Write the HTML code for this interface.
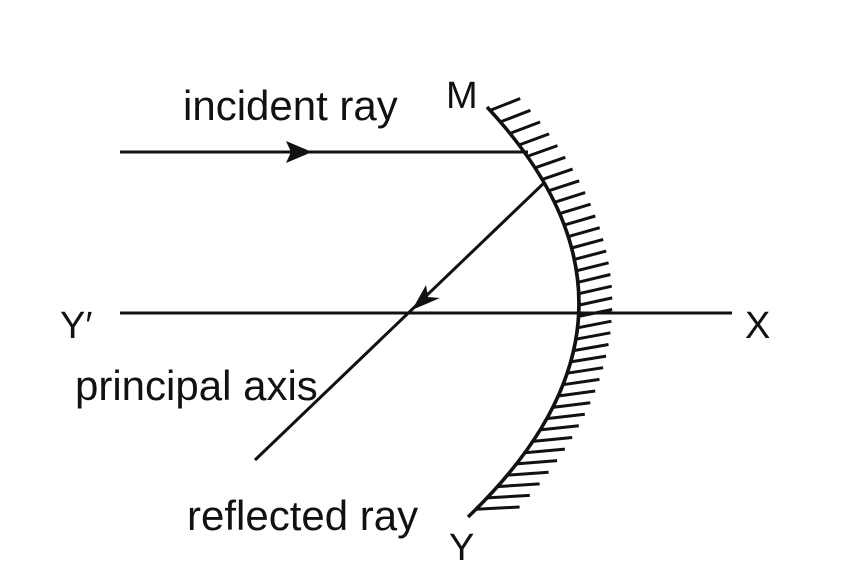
<!DOCTYPE html>
<html><head><style>body{margin:0;background:#fff}svg{display:block}</style></head><body>
<svg width="855" height="575" viewBox="0 0 855 575" xmlns="http://www.w3.org/2000/svg" font-family="Liberation Sans, sans-serif" font-size="42" fill="#111">
<rect width="855" height="575" fill="#fff"/>
<g stroke="#111" stroke-width="3" fill="none">
<line x1="120" y1="152" x2="528" y2="152"/>
<line x1="120" y1="313" x2="732" y2="313"/>
<line x1="545" y1="182" x2="255" y2="460"/>
<path d="M487 107 Q680 314 468 517" stroke-width="3.5"/>
<path d="M490.2 110.4L520.2 98.5M500.4 121.9L530.4 110.3M510 133.4L540.1 122M519 145L549.1 133.9M527.3 156.4L557.5 145.6M535 167.8L565.3 157.3M542.2 179.4L572.6 169.1M548.6 190.8L579.2 180.8M554.5 202.3L585.2 192.6M559.7 213.6L590.6 204.2M564.2 225.1L595.3 216M568.3 236.6L599.7 227.7M571.6 248L603.2 239.4M574.3 259.4L606.2 251.1M576.4 270.8L608.6 262.8M577.9 282.3L610.4 274.5M578.8 293.7L611.7 286.2M579 305.1L612.2 297.9M578.6 316.4L612.2 309.5M577.5 327.8L611.5 321.2M575.9 339.2L610.4 332.8M573.6 350.6L608.5 344.5M570.7 361.9L606.1 356.1M567.2 373.2L603.1 367.7M563.1 384.7L599.5 379.4M558.3 396L595.2 391M552.8 407.4L590.3 402.7M546.8 418.6L584.8 414.2M540.1 429.9L578.8 425.8M532.9 441.4L572.2 437.5M525 452.7L564.9 449.1M516.5 463.9L557.1 460.6M507.3 475.2L548.6 472.2M497.6 486.6L539.6 483.9M487.1 497.9L529.8 495.4M476.1 509.2L519.6 507"/>
</g>
<polygon points="312,152 286,141 291,152 286,163" fill="#111"/>
<polygon points="412,310 426,285 428,297 440,298" fill="#111"/>
<text x="183" y="120">incident ray</text>
<text x="446" y="108" font-size="38">M</text>
<text x="60" y="338" font-size="38">Y′</text>
<text x="745" y="338" font-size="38">X</text>
<text x="75" y="400">principal axis</text>
<text x="187" y="530">reflected ray</text>
<text x="449" y="560" font-size="38">Y</text>
</svg>
</body></html>
